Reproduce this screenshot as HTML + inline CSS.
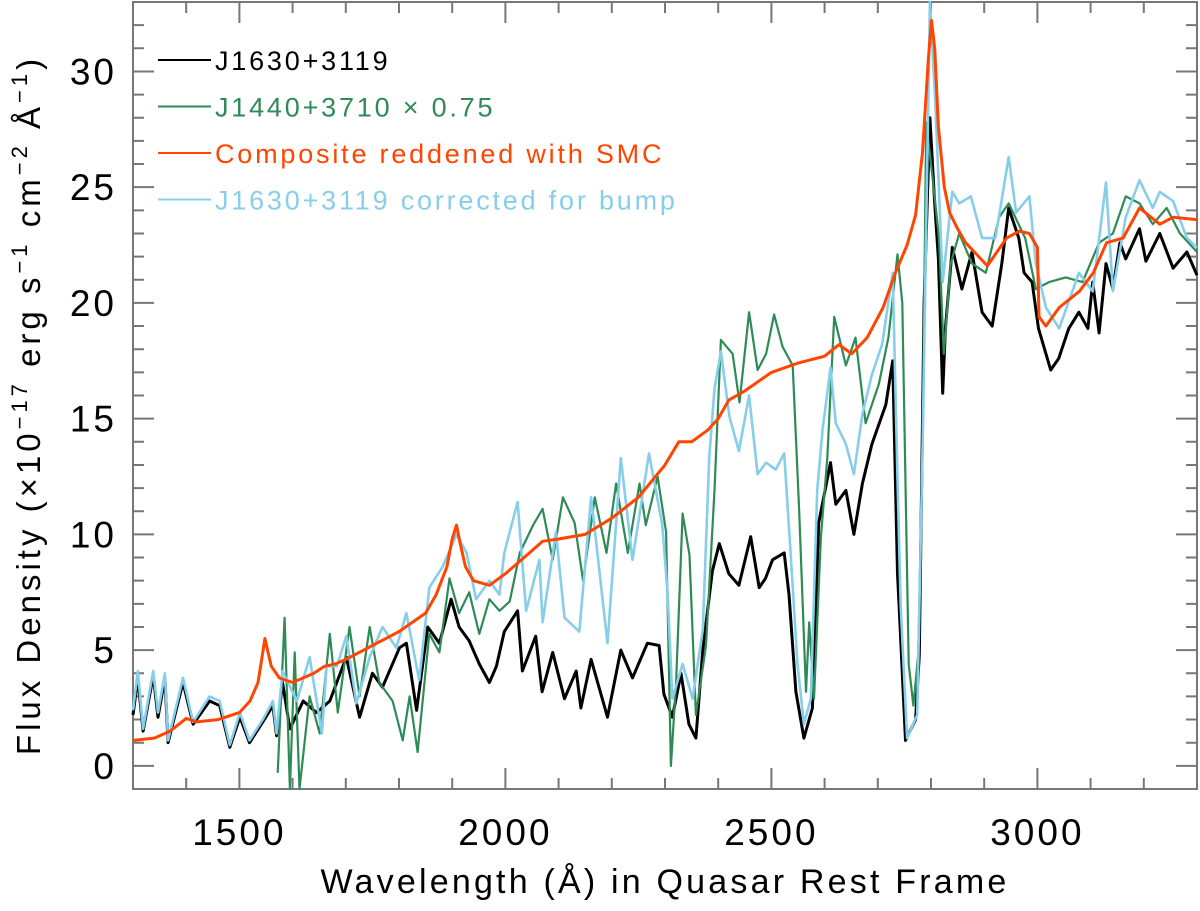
<!DOCTYPE html>
<html><head><meta charset="utf-8"><style>
body{margin:0;background:#fff;}
svg text{font-family:"Liberation Sans",sans-serif;}
</style></head><body>
<svg id="chart" width="1200" height="906" viewBox="0 0 1200 906" xmlns="http://www.w3.org/2000/svg">
<g id="axes"></g><g id="series"></g><g id="legend"></g>
<text x="665" y="893" font-size="34" text-anchor="middle" letter-spacing="3.2">Wavelength (Å) in Quasar Rest Frame</text>
<text transform="translate(40,405) rotate(-90)" font-size="33" text-anchor="middle" letter-spacing="4">Flux Density (×10<tspan dy="-13" font-size="22">−17</tspan><tspan dy="13"> erg s</tspan><tspan dy="-13" font-size="22">−1</tspan><tspan dy="13"> cm</tspan><tspan dy="-13" font-size="22">−2</tspan><tspan dy="13"> Å</tspan><tspan dy="-13" font-size="22">−1</tspan><tspan dy="13">)</tspan></text>
</svg>
<script>
const xTicks=[1500,2000,2500,3000];
const yTicks=[0,5,10,15,20,25,30];
const blackLam=[1300,1309,1319,1338,1347,1360,1366,1394,1413,1444,1463,1482,1501,1519,1544,1563,1570,1581,1595,1620,1645,1670,1701,1726,1750,1769,1801,1814,1833,1854,1876,1898,1913,1932,1951,1970,1983,1998,2023,2032,2057,2069,2089,2111,2133,2142,2161,2192,2217,2239,2267,2289,2298,2314,2330,2345,2358,2371,2389,2402,2420,2439,2461,2477,2489,2502,2524,2533,2546,2561,2577,2589,2611,2621,2640,2655,2671,2689,2715,2728,2737,2740,2752,2771,2778,2787,2798,2807,2814,2822,2827,2840,2858,2877,2896,2915,2933,2946,2965,2975,2990,3002,3025,3040,3059,3078,3095,3104,3116,3129,3142,3155,3166,3192,3204,3230,3255,3281,3300];
const blackFlux=[2.2,3.8,1.5,3.9,2.1,3.8,1.0,3.6,1.8,2.8,2.6,0.8,2.1,1.0,1.9,2.6,1.3,3.6,1.6,2.8,2.3,2.8,4.7,2.1,4.0,3.4,5.1,5.3,2.4,6.0,5.3,7.2,6.0,5.4,4.4,3.6,4.3,5.8,6.7,4.1,5.6,3.2,4.9,2.9,4.1,2.5,4.6,2.1,5.0,3.8,5.3,5.2,3.1,2.1,4.0,1.8,1.2,5.0,8.4,9.6,8.3,7.8,9.9,7.7,8.1,8.9,9.2,7.4,3.2,1.2,2.5,10.5,13.1,11.3,11.9,10.0,12.2,13.9,15.6,17.5,8.3,6.9,1.1,2.0,4.8,20.0,28.0,24.3,21.9,16.1,18.9,22.4,20.6,22.2,19.6,19.0,21.7,24.1,22.8,21.3,20.9,18.9,17.1,17.6,18.9,19.6,18.9,20.9,18.7,21.7,20.6,22.6,21.9,23.2,21.8,23.0,21.5,22.2,21.2];
const greenLam=[1572,1585,1595,1604,1613,1632,1651,1670,1685,1707,1726,1745,1763,1788,1807,1820,1835,1857,1876,1895,1913,1932,1951,1970,1989,2008,2027,2052,2070,2089,2108,2130,2146,2168,2190,2208,2230,2252,2264,2286,2302,2311,2321,2333,2346,2358,2377,2393,2405,2427,2440,2458,2474,2490,2505,2521,2540,2552,2565,2571,2580,2593,2605,2618,2640,2658,2677,2702,2720,2737,2746,2758,2767,2776,2784,2791,2803,2815,2824,2837,2853,2877,2903,2928,2946,2977,2997,3022,3053,3085,3116,3142,3166,3192,3217,3243,3268,3300];
const greenFlux=[-0.3,6.4,-1,4.9,-1,3.0,1.4,5.7,2.3,6.0,3.0,6.0,3.6,2.8,1.1,3.0,0.6,5.7,4.9,8.1,6.6,7.5,5.7,7.2,6.7,7.1,9.2,10.4,11.1,8.9,11.6,10.5,8.0,11.6,9.2,12.2,9.2,12.2,10.4,12.5,10.1,0,3.7,10.9,9.1,2.2,5.2,11.9,18.4,17.8,15.7,19.6,17.1,17.8,19.5,18.1,17.3,11.1,3.2,6.2,2.9,9.9,13.3,19.4,17.3,18.5,14.8,16.5,18.5,22.1,20.0,4.4,2.6,4.8,13.5,27.8,25.4,22.8,17.8,21.7,23.0,21.7,21.3,23.7,24.3,22.8,20.6,20.9,21.1,20.9,22.6,23.0,24.6,24.3,23.4,24.1,23.0,22.2];
const blueLam=[1300,1309,1319,1338,1347,1360,1366,1394,1413,1444,1463,1482,1501,1519,1544,1563,1570,1581,1608,1632,1655,1664,1683,1701,1720,1745,1769,1795,1814,1838,1857,1882,1908,1927,1945,1970,1989,1998,2023,2039,2064,2070,2095,2111,2139,2161,2192,2217,2239,2270,2295,2305,2314,2333,2352,2371,2383,2393,2405,2421,2439,2458,2474,2490,2508,2524,2536,2549,2561,2574,2586,2596,2611,2621,2640,2655,2671,2689,2708,2728,2737,2743,2755,2774,2784,2798,2808,2822,2840,2853,2875,2896,2921,2946,2960,2985,2997,3016,3041,3078,3104,3129,3142,3166,3192,3217,3230,3255,3281,3300];
const blueFlux=[2.4,4.1,1.6,4.1,2.3,4.0,1.1,3.8,1.9,3.0,2.8,0.9,2.3,1.1,2.0,2.8,1.4,4.1,2.8,4.7,1.4,4.3,4.3,5.6,2.7,4.7,6.0,5.1,6.6,3.7,7.7,8.6,10.0,9.2,7.2,8.0,7.4,9.2,11.4,6.7,8.9,6.2,10.1,6.4,5.8,11.6,5.3,13.3,8.9,13.5,10.4,7.4,2.9,4.4,2.9,5.9,13.3,16.3,17.9,15.1,13.6,16.0,12.6,13.1,12.8,13.5,9.2,4.4,1.8,2.9,11.9,14.5,17.2,14.8,13.9,12.6,15.2,16.9,18.2,21.3,12.4,6.9,1.2,2.2,13.5,33,28.7,20.9,24.8,24.3,24.6,22.8,22.8,26.3,23.9,24.6,21.7,19.8,18.9,21.3,20.5,25.2,20.5,23.7,25.3,24.1,24.8,24.4,22.8,22.4];
const redLam=[1300,1340,1370,1400,1420,1460,1500,1520,1535,1542,1548,1554,1560,1575,1600,1640,1660,1680,1700,1750,1800,1850,1870,1890,1900,1908,1915,1925,1940,1970,2000,2050,2070,2100,2150,2200,2250,2300,2326,2350,2380,2400,2420,2450,2500,2550,2600,2627,2651,2680,2710,2733,2755,2771,2784,2795,2801,2807,2814,2825,2835,2850,2865,2906,2942,2966,2985,3000,3003,3016,3041,3079,3105,3130,3161,3192,3230,3255,3300];
const redFlux=[1.1,1.2,1.5,2.05,1.9,2.0,2.3,2.8,3.6,4.6,5.5,4.9,4.3,3.8,3.6,4.0,4.3,4.4,4.6,5.2,5.8,6.6,7.4,8.6,9.8,10.4,9.6,8.6,8.0,7.8,8.3,9.3,9.7,9.8,10.0,10.7,11.6,13.0,14.0,14.0,14.5,15.0,15.8,16.2,17.0,17.4,17.7,18.2,17.8,18.5,19.8,21.3,22.5,23.8,26.5,30.5,32.2,31.0,27.6,25.0,23.9,23.2,22.6,21.6,22.8,23.1,23.0,22.4,19.4,19.0,19.8,20.5,21.3,22.6,22.8,24.1,23.4,23.7,23.6];

const X0=133,X1=1197,Y0=2,Y1=789,XMIN=1300,XMAX=3300,YMIN=-1,YMAX=33;
const sx=v=>X0+(v-XMIN)/(XMAX-XMIN)*(X1-X0);
const sy=v=>Y1-(v-YMIN)/(YMAX-YMIN)*(Y1-Y0);
const NS='http://www.w3.org/2000/svg';
const axes=document.getElementById('axes');
function mk(tag,parent){const e=document.createElementNS(NS,tag);parent.appendChild(e);return e;}
const frame=mk('rect',axes);


frame.setAttribute('x',X0);frame.setAttribute('y',Y0);frame.setAttribute('width',X1-X0);frame.setAttribute('height',Y1-Y0);
frame.setAttribute('fill','none');frame.setAttribute('stroke','#777');frame.setAttribute('stroke-width','2');
for(let w=1400;w<3300;w+=100){
  const major=(w%500===0);const L=major?21:11;const x=sx(w);
  const t=mk('path',axes);
  
  
  t.setAttribute('d',`M${x},${Y1}V${Y1-L}M${x},${Y0}V${Y0+L}`);
  t.setAttribute('stroke','#777');t.setAttribute('stroke-width','2');
}
for(let f=0;f<=33;f+=1){
  const major=(f%5===0);const L=major?21:11;const y=sy(f);
  const t=mk('path',axes);
  
  
  t.setAttribute('d',`M${X0},${y}H${X0+L}M${X1},${y}H${X1-L}`);
  t.setAttribute('stroke','#777');t.setAttribute('stroke-width','2');
}
xTicks.forEach(v=>{const t=mk('text',axes);
  
  
  t.setAttribute('x',sx(v));t.setAttribute('y',845);t.setAttribute('font-size','37');t.setAttribute('letter-spacing','3');t.setAttribute('text-anchor','middle');t.textContent=v;});
yTicks.forEach(v=>{const t=mk('text',axes);
  
  
  t.setAttribute('x',117);t.setAttribute('y',sy(v)+13);t.setAttribute('font-size','37');t.setAttribute('letter-spacing','3');t.setAttribute('text-anchor','end');t.textContent=v;});
const ser=document.getElementById('series');
function line(lam,flux,color,w,name){
  const p=mk('path',ser);
  
  
  p.setAttribute('d',lam.map((l,i)=>(i?'L':'M')+sx(l).toFixed(1)+','+sy(Math.max(YMIN,flux[i])).toFixed(1)).join(''));
  p.setAttribute('fill','none');p.setAttribute('stroke',color);p.setAttribute('stroke-width',w);p.setAttribute('stroke-linejoin','round');
}
line(blackLam,blackFlux,'#000',3,'series-j1630');
line(greenLam,greenFlux,'#2e8b57',2.2,'series-j1440');
line(blueLam,blueFlux,'#87ceeb',2.6,'series-j1630-corrected');
line(redLam,redFlux,'#ff4500',3,'series-composite');
const leg=document.getElementById('legend');
const entries=[['J1630+3119','#000'],['J1440+3710 × 0.75','#2e8b57'],['Composite reddened with SMC','#ff4500'],['J1630+3119 corrected for bump','#87ceeb']];
entries.forEach((e,i)=>{const y=60+i*46.5;
  const l=mk('line',leg);
  
  
  l.setAttribute('x1',158);l.setAttribute('x2',211);l.setAttribute('y1',y);l.setAttribute('y2',y);l.setAttribute('stroke',e[1]);l.setAttribute('stroke-width','2');
  const t=mk('text',leg);
  
  
  t.setAttribute('x',215);t.setAttribute('y',y+10);t.setAttribute('font-size','27');t.setAttribute('fill',e[1]);t.setAttribute('letter-spacing','2.8');t.textContent=e[0];});
</script>
</body></html>
